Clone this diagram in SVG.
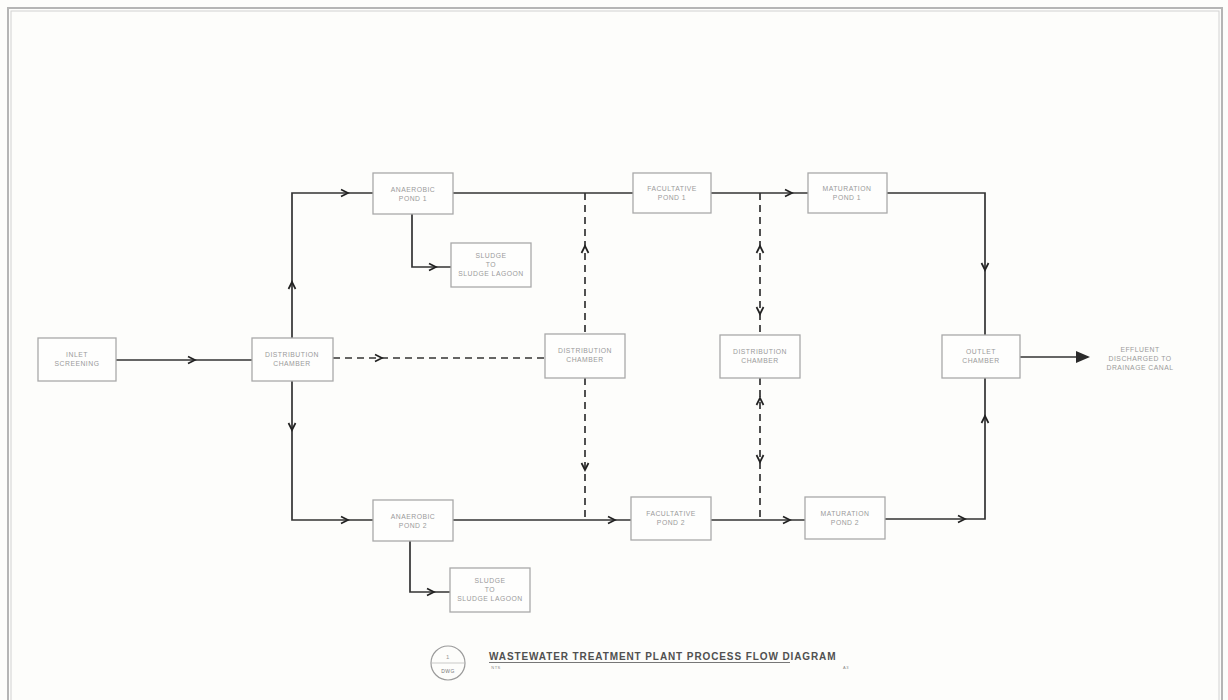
<svg xmlns="http://www.w3.org/2000/svg" xmlns:xlink="http://www.w3.org/1999/xlink" width="1228" height="700" viewBox="0 0 1228 700">
<style>
.bx{fill:#fefefd;stroke:#a9a9a9;stroke-width:1.3}
.t{font-family:"Liberation Sans",Arial,sans-serif;font-size:6.8px;fill:#9a9a9a;text-anchor:middle;letter-spacing:0.5px}
.ln{fill:none;stroke:#333;stroke-width:1.7}
.ds{fill:none;stroke:#333;stroke-width:1.7;stroke-dasharray:7 5}
.ah{fill:none;stroke:#222;stroke-width:1.7}
</style>
<defs>
<path id="ah" d="M-7,-3.5 L0,0 L-7,3.5" class="ah"/>
</defs>
<rect x="0" y="0" width="1228" height="700" fill="#fdfdfb"/>
<rect x="8" y="8" width="1214" height="700" fill="none" stroke="#b5b5b5" stroke-width="2"/>
<rect x="11" y="11" width="1208" height="700" fill="none" stroke="#d2d2d2" stroke-width="1"/>

<g id="connectors">
<path class="ln" d="M116,360 H252"/>
<path class="ln" d="M292,338 V193 H373"/>
<path class="ln" d="M292,381 V520 H373"/>
<path class="ds" d="M333,358 H545"/>
<path class="ln" d="M453,193 H633"/>
<path class="ln" d="M453,520 H631"/>
<path class="ds" d="M585,193 V334"/>
<path class="ds" d="M585,378 V520"/>
<path class="ln" d="M711,193 H808"/>
<path class="ln" d="M711,520 H805"/>
<path class="ds" d="M760,193 V335"/>
<path class="ds" d="M760,378 V520"/>
<path class="ln" d="M887,193 H985 V335"/>
<path class="ln" d="M885,519 H985 V378"/>
<path class="ln" d="M412,214 V267 H451" stroke-width="2"/>
<path class="ln" d="M410,541 V592 H450" stroke-width="2"/>
<path class="ln" d="M1020,357 H1088" stroke-width="3"/>
<path d="M1076,351 L1090,357 L1076,363 Z" fill="#2a2a2a"/>
<use xlink:href="#ah" transform="translate(195,360)"/>
<use xlink:href="#ah" transform="translate(292,282) rotate(-90)"/>
<use xlink:href="#ah" transform="translate(292,430) rotate(90)"/>
<use xlink:href="#ah" transform="translate(348,193)"/>
<use xlink:href="#ah" transform="translate(348,520)"/>
<use xlink:href="#ah" transform="translate(382,358)"/>
<use xlink:href="#ah" transform="translate(585,246) rotate(-90)"/>
<use xlink:href="#ah" transform="translate(585,470) rotate(90)"/>
<use xlink:href="#ah" transform="translate(615,520)"/>
<use xlink:href="#ah" transform="translate(792,193)"/>
<use xlink:href="#ah" transform="translate(790,520)"/>
<use xlink:href="#ah" transform="translate(760,246) rotate(-90)"/>
<use xlink:href="#ah" transform="translate(760,314) rotate(90)"/>
<use xlink:href="#ah" transform="translate(760,398) rotate(-90)"/>
<use xlink:href="#ah" transform="translate(760,462) rotate(90)"/>
<use xlink:href="#ah" transform="translate(985,270) rotate(90)"/>
<use xlink:href="#ah" transform="translate(985,416) rotate(-90)"/>
<use xlink:href="#ah" transform="translate(965,519)"/>
<use xlink:href="#ah" transform="translate(436,267)"/>
<use xlink:href="#ah" transform="translate(434,592)"/>
</g>

<g id="inlet"><rect class="bx" x="38" y="338" width="78" height="43"/><text class="t" x="77" y="357">INLET</text><text class="t" x="77" y="366">SCREENING</text></g>
<g id="dist1"><rect class="bx" x="252" y="338" width="81" height="43"/><text class="t" x="292" y="357">DISTRIBUTION</text><text class="t" x="292" y="366">CHAMBER</text></g>
<g id="anaer1"><rect class="bx" x="373" y="173" width="80" height="41"/><text class="t" x="413" y="192">ANAEROBIC</text><text class="t" x="413" y="201">POND 1</text></g>
<g id="sludge1"><rect class="bx" x="451" y="243" width="80" height="44"/><text class="t" x="491" y="258">SLUDGE</text><text class="t" x="491" y="267">TO</text><text class="t" x="491" y="276">SLUDGE LAGOON</text></g>
<g id="anaer2"><rect class="bx" x="373" y="500" width="80" height="41"/><text class="t" x="413" y="519">ANAEROBIC</text><text class="t" x="413" y="528">POND 2</text></g>
<g id="sludge2"><rect class="bx" x="450" y="568" width="80" height="44"/><text class="t" x="490" y="583">SLUDGE</text><text class="t" x="490" y="592">TO</text><text class="t" x="490" y="601">SLUDGE LAGOON</text></g>
<g id="dist2"><rect class="bx" x="545" y="334" width="80" height="44"/><text class="t" x="585" y="353">DISTRIBUTION</text><text class="t" x="585" y="362">CHAMBER</text></g>
<g id="fac1"><rect class="bx" x="633" y="173" width="78" height="40"/><text class="t" x="672" y="191">FACULTATIVE</text><text class="t" x="672" y="200">POND 1</text></g>
<g id="fac2"><rect class="bx" x="631" y="497" width="80" height="43"/><text class="t" x="671" y="516">FACULTATIVE</text><text class="t" x="671" y="525">POND 2</text></g>
<g id="dist3"><rect class="bx" x="720" y="335" width="80" height="43"/><text class="t" x="760" y="354">DISTRIBUTION</text><text class="t" x="760" y="363">CHAMBER</text></g>
<g id="mat1"><rect class="bx" x="808" y="173" width="79" height="40"/><text class="t" x="847" y="191">MATURATION</text><text class="t" x="847" y="200">POND 1</text></g>
<g id="mat2"><rect class="bx" x="805" y="497" width="80" height="42"/><text class="t" x="845" y="516">MATURATION</text><text class="t" x="845" y="525">POND 2</text></g>
<g id="outlet"><rect class="bx" x="942" y="335" width="78" height="43"/><text class="t" x="981" y="354">OUTLET</text><text class="t" x="981" y="363">CHAMBER</text></g>
<g id="effluent"><text class="t" x="1140" y="352">EFFLUENT</text><text class="t" x="1140" y="361">DISCHARGED TO</text><text class="t" x="1140" y="370">DRAINAGE CANAL</text></g>

<g id="title">
<circle cx="448" cy="663" r="17" fill="none" stroke="#9a9a9a" stroke-width="1.2"/>
<line x1="431" y1="663" x2="465" y2="663" stroke="#bbb" stroke-width="0.8"/>
<text class="t" x="448" y="659" style="font-size:6px">1</text>
<text class="t" x="448" y="673" style="font-size:5px;fill:#777">DWG</text>
<text x="489" y="660" style="font-family:'Liberation Sans',Arial,sans-serif;font-size:10px;font-weight:bold;fill:#505050;letter-spacing:0.9px">WASTEWATER TREATMENT PLANT PROCESS FLOW DIAGRAM</text>
<line x1="489" y1="662.5" x2="790" y2="662.5" stroke="#777" stroke-width="1"/>
<text class="t" x="496" y="669" style="font-size:4px;fill:#888">NTS</text>
<text class="t" x="846" y="669" style="font-size:4px;fill:#888">A3</text>
</g>
</svg>
